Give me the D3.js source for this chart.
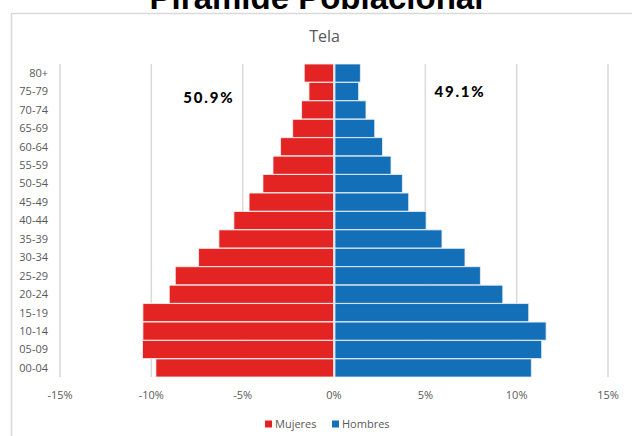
<!DOCTYPE html>
<html>
<head>
<meta charset="utf-8">
<script src="https://cdn.jsdelivr.net/npm/d3@7"></script>
<style>
  body { margin: 0; background: #fff; }
  svg { display: block; }
</style>
</head>
<body>
<svg id="chart" width="632" height="436"></svg>
<script>
//age groups, top to bottom
const ageGroups = ["80+", "75-79", "70-74", "65-69", "60-64", "55-59", "50-54", "45-49", "40-44",
                   "35-39", "30-34", "25-29", "20-24", "15-19", "10-14", "05-09", "00-04"];
//percent of population per group
const mujeres = [1.63, 1.37, 1.77, 2.26, 2.92, 3.34, 3.89, 4.65, 5.48,
                 6.30, 7.41, 8.69, 9.02, 10.46, 10.46, 10.48, 9.75];
const hombres = [1.44, 1.35, 1.75, 2.23, 2.65, 3.12, 3.74, 4.09, 5.04,
                 5.91, 7.17, 8.01, 9.24, 10.66, 11.61, 11.37, 10.80];
const xTicks = [-15, -10, -5, 0, 5, 10, 15];
const totals = { mujeres: "50.9%", hombres: "49.1%" };

const svg = d3.select("#chart");
const font = "'Open Sans', sans-serif";
const grey = "#595959";

//chart area frame
svg.append("rect")
    .attr("x", 11.5).attr("y", 13.5)
    .attr("width", 640).attr("height", 440)
    .attr("fill", "white")
    .attr("stroke", "#d9d9d9")
    .attr("stroke-width", 1.5);

//main title (cut off at the top like the original)
svg.append("text")
    .attr("x", 316.5).attr("y", 8.5)
    .attr("text-anchor", "middle")
    .attr("font-family", "'Liberation Sans', Arial, sans-serif")
    .attr("font-weight", "bold")
    .attr("font-size", 33)
    .text("Pirámide Poblacional");

svg.append("text")
    .attr("x", 324.5).attr("y", 42)
    .attr("text-anchor", "middle")
    .attr("font-family", font)
    .attr("font-size", 16)
    .attr("fill", grey)
    .text("Tela");

//scales
const x = d3.scaleLinear().domain([-15, 15]).range([60, 608]);
const y = d3.scaleBand().domain(ageGroups).range([64, 377]).paddingInner(0.02);

//gridlines
svg.append("g")
    .selectAll("line")
    .data(xTicks)
    .join("line")
    .attr("x1", d => x(d)).attr("x2", d => x(d))
    .attr("y1", 64).attr("y2", 377)
    .attr("stroke", "#d9d9d9")
    .attr("stroke-width", 1.5);

//women bars on the left
svg.append("g")
    .selectAll("rect")
    .data(mujeres)
    .join("rect")
    .attr("x", d => x(-d))
    .attr("y", (d, i) => y(ageGroups[i]))
    .attr("width", d => x(0) - x(-d) - 0.5)
    .attr("height", y.bandwidth())
    .attr("fill", "#e42423")
    .attr("stroke", "#f2f2f2")
    .attr("stroke-width", 0.8);

//men bars on the right
svg.append("g")
    .selectAll("rect")
    .data(hombres)
    .join("rect")
    .attr("x", x(0) + 1)
    .attr("y", (d, i) => y(ageGroups[i]))
    .attr("width", d => x(d) - x(0) - 1)
    .attr("height", y.bandwidth())
    .attr("fill", "#136fb7")
    .attr("stroke", "#e6eef6")
    .attr("stroke-width", 0.8);

//age labels
svg.append("g")
    .selectAll("text")
    .data(ageGroups)
    .join("text")
    .attr("x", 48)
    .attr("y", d => y(d) + y.bandwidth() / 2)
    .attr("dy", "0.35em")
    .attr("text-anchor", "end")
    .attr("font-family", font)
    .attr("font-size", 11)
    .attr("fill", grey)
    .text(d => d);

//x tick labels
svg.append("g")
    .selectAll("text")
    .data(xTicks)
    .join("text")
    .attr("x", d => x(d))
    .attr("y", 395)
    .attr("dy", "0.35em")
    .attr("text-anchor", "middle")
    .attr("font-family", font)
    .attr("font-size", 11)
    .attr("fill", grey)
    .text(d => d + "%");

//share annotations
svg.append("text")
    .attr("x", x(-6.85)).attr("y", y("75-79") + y.bandwidth() / 2 + 6)
    .attr("dy", "0.35em")
    .attr("text-anchor", "middle")
    .attr("font-family", "Lato, sans-serif")
    .attr("font-weight", 900)
    .attr("font-size", 15)
    .attr("letter-spacing", 1.8)
    .text(totals.mujeres);
svg.append("text")
    .attr("x", x(6.9)).attr("y", y("75-79") + y.bandwidth() / 2)
    .attr("dy", "0.35em")
    .attr("text-anchor", "middle")
    .attr("font-family", "Lato, sans-serif")
    .attr("font-weight", 900)
    .attr("font-size", 15)
    .attr("letter-spacing", 1.8)
    .text(totals.hombres);

//legend
const legend = [
    { name: "Mujeres", color: "#e42423", x: 265 },
    { name: "Hombres", color: "#136fb7", x: 332 }
];
const lg = svg.append("g").selectAll("g").data(legend).join("g")
    .attr("transform", d => `translate(${d.x},424)`);
lg.append("rect")
    .attr("x", 0).attr("y", -3.5)
    .attr("width", 7).attr("height", 7)
    .attr("fill", d => d.color);
lg.append("text")
    .attr("x", 10).attr("y", 0)
    .attr("dy", "0.35em")
    .attr("font-family", font)
    .attr("font-size", 11)
    .attr("fill", grey)
    .text(d => d.name);
</script>
</body>
</html>
